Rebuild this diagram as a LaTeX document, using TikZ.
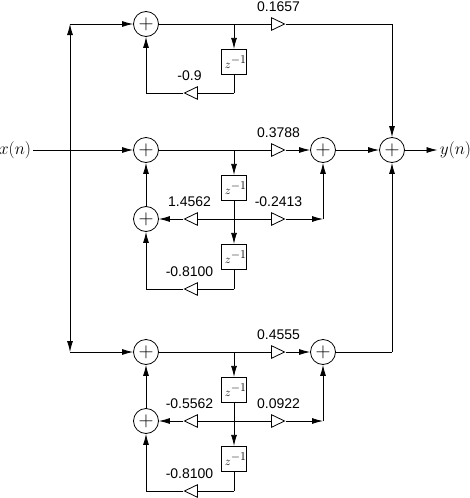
\documentclass[tikz,border=0pt]{standalone}
\usepackage{amsmath,amssymb}
\usepackage{fontspec}
\setmainfont{Liberation Sans}
\usetikzlibrary{arrows.meta,positioning,shapes.geometric}

\begin{document}
\begin{tikzpicture}[
    x=1pt, y=1pt, on grid, line width=0.8pt,
    sum/.style={draw, circle, minimum size=25pt, inner sep=0pt, font=\fontsize{20}{20}\selectfont},
    delay/.style={draw, rectangle, minimum size=25pt, inner sep=0pt, line width=1.2pt,
                  text width=25pt, align=right, font=\fontsize{12}{12}\selectfont},
    tap/.style={inner sep=0pt, minimum size=0pt},
    gain/.style={draw, isosceles triangle, isosceles triangle stretches, minimum width=12.5pt,
                 minimum height=13pt, inner sep=0pt},
    gainr/.style={gain, shape border rotate=0},
    gainl/.style={gain, shape border rotate=180},
    coef/.style={font=\fontsize{14}{14}\selectfont, inner sep=0pt},
    coefr/.style={coef, xshift=3pt},
    coefl/.style={coef, xshift=-4pt},
    sig/.style={font=\fontsize{16}{16}\selectfont, inner sep=2pt},
    arrow/.style={-{Latex[length=11pt,width=6pt]}}
]
\useasboundingbox (0,0) rectangle (470,-498);

\newcommand{\zinv}{$z^{\textstyle -1}$}
\newcommand{\plus}{$+$}

\node[sum] (sumA) at (146,-24) {\plus};
\node[sum, below=126pt of sumA]  (sumB)  {\plus};
\node[sum, below=69pt of sumB]   (sumBb) {\plus};
\node[sum, below=202pt of sumB]  (sumC)  {\plus};
\node[sum, below=69pt of sumC]   (sumCb) {\plus};
\node[sum, right=177pt of sumB]  (addB)  {\plus};
\node[sum, right=177pt of sumC]  (addC)  {\plus};
\node[sum, right=69pt of addB]   (addOut) {\plus};

\node[sig] (xin)  at (15,-150) {$x(n)$};
\node[sig, right=63.5pt of addOut] (yout) {$y(n)$};

\coordinate (split) at (sumB -| 70,0);
\coordinate (splitA) at (sumA -| split);
\coordinate (splitC) at (sumC -| split);
\coordinate (outA) at (sumA -| addOut);
\coordinate (outC) at (sumC -| addOut);

\node[tap, right=88pt of sumA] (tapA) {};
\node[delay, below=38pt of tapA] (delayA) {\zinv};
\node[tap, below=31pt of delayA] (backA) {};
\coordinate (cornerA) at (backA -| sumA);
\node[gainr, right=129.5pt of sumA] (gainA) {};
\node[gainl, left=40.5pt of backA] (gainAb) {};
\node[coefl, above=17pt of gainAb] (labAb) {-0.9};
\node[coefr, above=17pt of gainA] (labA) {0.1657};

\node[tap, right=88pt of sumB] (tapB) {};
\node[delay, below=38pt of tapB] (delayB) {\zinv};
\node[tap, below=31pt of delayB] (midB) {};
\node[delay, below=38pt of midB] (delayBb) {\zinv};
\node[tap, below=32pt of delayBb] (backB) {};
\coordinate (cornerB) at (backB -| sumB);
\coordinate (turnB) at (midB -| addB);
\node[gainr, right=129.5pt of sumB] (gainB) {};
\node[gainl, left=40.5pt of midB] (gainBl) {};
\node[gainr, right=41.5pt of midB] (gainBr) {};
\node[gainl, left=40.5pt of backB] (gainBb) {};
\node[coefr, above=17pt of gainB] (labB) {0.3788};
\node[coefl, above=17pt of gainBl] (labBl) {1.4562};
\node[coefr, above=17pt of gainBr] (labBr) {-0.2413};
\node[coefl, above=17pt of gainBb] (labBb) {-0.8100};

\node[tap, right=88pt of sumC] (tapC) {};
\node[delay, below=38pt of tapC] (delayC) {\zinv};
\node[tap, below=31pt of delayC] (midC) {};
\node[delay, below=38pt of midC] (delayCb) {\zinv};
\node[tap, below=32pt of delayCb] (backC) {};
\coordinate (cornerC) at (backC -| sumC);
\coordinate (turnC) at (midC -| addC);
\node[gainr, right=129.5pt of sumC] (gainC) {};
\node[gainl, left=40.5pt of midC] (gainCl) {};
\node[gainr, right=41.5pt of midC] (gainCr) {};
\node[gainl, left=40.5pt of backC] (gainCb) {};
\node[coefr, above=17pt of gainC] (labC) {0.4555};
\node[coefl, above=17pt of gainCl] (labCl) {-0.5562};
\node[coefr, above=17pt of gainCr] (labCr) {0.0922};
\node[coefl, above=17pt of gainCb] (labCb) {-0.8100};

\draw[arrow] (xin) -- (sumB);
\draw[arrow] (split) -- (splitA);
\draw[arrow] (split) -- (splitC);
\draw[arrow] (splitA) -- (sumA);
\draw[arrow] (splitC) -- (sumC);

\draw (sumA) -- (gainA);
\draw (gainA) -- (outA);
\draw[arrow] (outA) -- (addOut);
\draw[arrow] (tapA) -- (delayA);
\draw (delayA) -- (backA) -- (gainAb);
\draw[arrow] (gainAb) -- (cornerA) -- (sumA);

\draw (sumB) -- (gainB);
\draw[arrow] (gainB) -- (addB);
\draw[arrow] (addB) -- (addOut);
\draw[arrow] (addOut) -- (yout);
\draw[arrow] (tapB) -- (delayB);
\draw[arrow] (delayB) -- (delayBb);
\draw (gainBl) -- (gainBr);
\draw[arrow] (gainBl) -- (sumBb);
\draw[arrow] (gainBr) -- (turnB);
\draw[arrow] (turnB) -- (addB);
\draw[arrow] (sumBb) -- (sumB);
\draw (delayBb) -- (backB) -- (gainBb);
\draw[arrow] (gainBb) -- (cornerB) -- (sumBb);

\draw (sumC) -- (gainC);
\draw[arrow] (gainC) -- (addC);
\draw (addC) -- (outC);
\draw[arrow] (outC) -- (addOut);
\draw[arrow] (tapC) -- (delayC);
\draw[arrow] (delayC) -- (delayCb);
\draw (gainCl) -- (gainCr);
\draw[arrow] (gainCl) -- (sumCb);
\draw[arrow] (gainCr) -- (turnC);
\draw[arrow] (turnC) -- (addC);
\draw[arrow] (sumCb) -- (sumC);
\draw (delayCb) -- (backC) -- (gainCb);
\draw[arrow] (gainCb) -- (cornerC) -- (sumCb);
\end{tikzpicture}
\end{document}
